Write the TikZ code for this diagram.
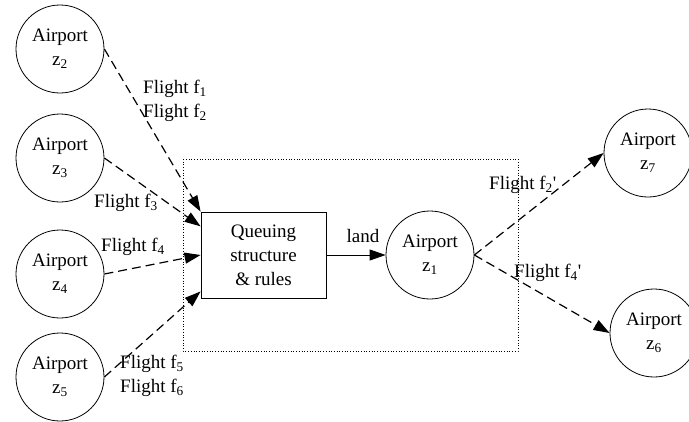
\documentclass[tikz,border=0pt]{standalone}
\usepackage{fontspec}
\setmainfont{Liberation Serif}
\usetikzlibrary{arrows.meta,calc}
\begin{document}
\begin{tikzpicture}[x=1pt,y=-1pt,
  every node/.style={font=\fontsize{19}{24}\selectfont},
  airport/.style={draw,circle,minimum size=88pt,inner sep=0pt,align=center,line width=0.8pt},
  qbox/.style={draw,rectangle,minimum width=125pt,minimum height=86pt,inner sep=0pt,align=center,line width=0.8pt},
  flow/.style={dashed,dash pattern=on 9pt off 5pt,line width=1.2pt,-{Triangle[length=16pt,width=11pt]}},
  solidflow/.style={line width=0.8pt,-{Triangle[length=16pt,width=11pt]}},
  lbl/.style={inner sep=0pt,align=left}]
\useasboundingbox (0,0) rectangle (689,421);
\draw[dotted,line width=0.7pt] (183,159) rectangle (518,351);
\node[airport] (z2) at (60,49) {Airport\\z\textsubscript{2}};
\node[airport] (z3) at (60,158) {Airport\\z\textsubscript{3}};
\node[airport] (z4) at (60,274) {Airport\\z\textsubscript{4}};
\node[airport] (z5) at (60,377) {Airport\\z\textsubscript{5}};
\node[airport] (z1) at (430,255) {Airport\\z\textsubscript{1}};
\node[airport] (z7) at (648,153) {Airport\\z\textsubscript{7}};
\node[airport] (z6) at (654,333) {Airport\\z\textsubscript{6}};
\node[qbox] (q) at (263.5,255) {Queuing\\structure\\\& rules};
\coordinate (q1) at (q.north west);
\coordinate (q2) at ($(q.north west)!0.17!(q.south west)$);
\coordinate (q3) at (q.west);
\coordinate (q4) at ($(q.north west)!0.92!(q.south west)$);
\draw[flow] (z2.east) -- (q1);
\draw[flow] (z3.east) -- (q2);
\draw[flow] (z4.east) -- (q3);
\draw[flow] (z5.east) -- (q4);
\draw[solidflow] (q.east) -- (z1.west);
\draw[flow] (z1.east) -- (z7.west);
\draw[flow] (z1.east) -- (z6.west);
\node[lbl,anchor=west] (l12) at (143,101) {Flight f\textsubscript{1}\\Flight f\textsubscript{2}};
\node[lbl,anchor=west] (l3) at (94,203) {Flight f\textsubscript{3}};
\node[lbl,anchor=west] (l4) at (101,247) {Flight f\textsubscript{4}};
\node[lbl,anchor=west] (l56) at (120,376) {Flight f\textsubscript{5}\\Flight f\textsubscript{6}};
\node[lbl] (land) at (363,236) {land};
\node[lbl,anchor=west] (l2p) at (489,185) {Flight f\textsubscript{2}\textquotesingle};
\node[lbl,anchor=west] (l4p) at (514,273) {Flight f\textsubscript{4}\textquotesingle};
\end{tikzpicture}
\end{document}
